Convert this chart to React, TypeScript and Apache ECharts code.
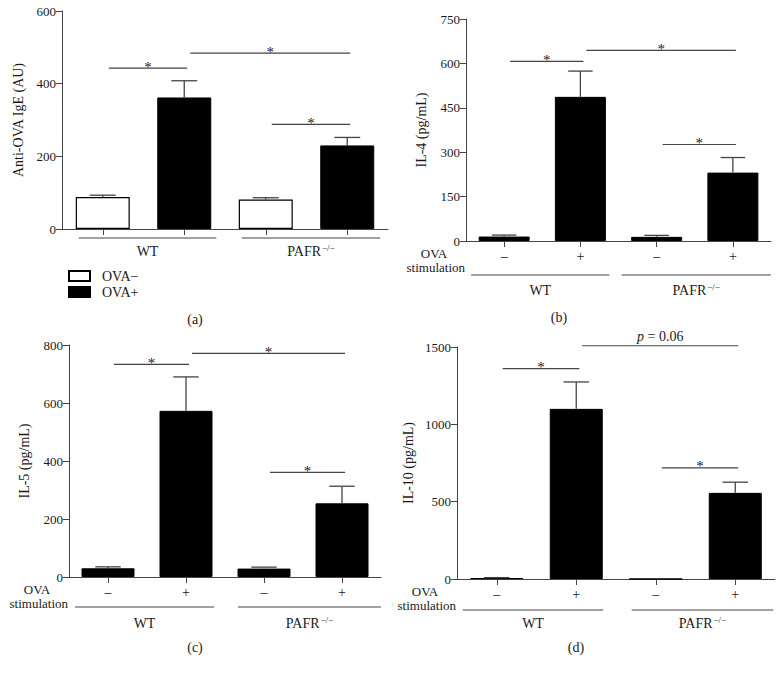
import React, { useEffect, useRef } from "react";
import * as echarts from "echarts";

// ---------- data ----------
const groupNames = ["WT", "PAFR"];
const stimLabels = ["–", "+", "–", "+"];
const blankLabels = ["", "", "", ""];
const legendNames = ["OVA−", "OVA+"];

const igeMean = [88, 362, 81, 230];
const igeSem = [5, 46, 5, 22];
const il4Mean = [15, 487, 14, 231];
const il4Sem = [5, 87, 5, 51];
const il5Mean = [30, 573, 29, 254];
const il5Sem = [5, 117, 5, 59];
const il10Mean = [6, 1100, 0, 557];
const il10Sem = [3, 174, 0, 69];

const yTicksA = [0, 200, 400, 600];
const yTicksB = [0, 150, 300, 450, 600, 750];
const yTicksC = [0, 200, 400, 600, 800];
const yTicksD = [0, 500, 1000, 1500];

// significance brackets: [fromIndex, toIndex, yValue]
const sigA = [[0, 1, 443], [1, 3, 484], [2, 3, 288]];
const sigB = [[0, 1, 607], [1, 3, 644], [2, 3, 326]];
const sigC = [[0, 1, 733], [1, 3, 771], [2, 3, 361]];
const sigD = [[0, 1, 1360], [1, 3, 1508], [2, 3, 719]];
const sigLabelsA = ["*", "*", "*"];
const sigLabelsB = ["*", "*", "*"];
const sigLabelsC = ["*", "*", "*"];
const sigLabelsD = ["*", "p = 0.06", "*"];

// groups: [fromIndex, toIndex]
const groupSpans = [[0, 1], [2, 3]];

const FONT = "'Liberation Serif', 'DejaVu Serif', 'Times New Roman', serif";
const AXIS_COLOR = "#444";
const TEXT_COLOR = "#1a1a1a";

type Panel = {
  grid: any;
  yName: string;
  yTicks: number[];
  mean: number[];
  sem: number[];
  sig: number[][];
  sigLabels: string[];
  barWidth: number;
  showStim: boolean;
  groupPads: number[][];
  lineDy: number;
  labelDy: number;
  nameGap: number;
  label: string;
  labelPos: number[];
  twoTone: boolean;
};

const panels: Panel[] = [
  {
    grid: { left: 62, top: 11, width: 326, height: 218 },
    yName: "Anti-OVA IgE (AU)", yTicks: yTicksA, mean: igeMean, sem: igeSem,
    sig: sigA, sigLabels: sigLabelsA, barWidth: 54, showStim: false,
    groupPads: [[24, 32], [24, 33]], lineDy: 9, labelDy: 21, nameGap: 37,
    label: "(a)", labelPos: [195, 319], twoTone: true,
  },
  {
    grid: { left: 466, top: 19, width: 305, height: 222 },
    yName: "IL-4 (pg/mL)", yTicks: yTicksB, mean: il4Mean, sem: il4Sem,
    sig: sigB, sigLabels: sigLabelsB, barWidth: 51, showStim: true,
    groupPads: [[33, 29], [35, 38]], lineDy: 34, labelDy: 48, nameGap: 38,
    label: "(b)", labelPos: [559, 317], twoTone: false,
  },
  {
    grid: { left: 69, top: 345, width: 312, height: 232 },
    yName: "IL-5 (pg/mL)", yTicks: yTicksC, mean: il5Mean, sem: il5Sem,
    sig: sigC, sigLabels: sigLabelsC, barWidth: 53, showStim: true,
    groupPads: [[33, 28], [26, 39]], lineDy: 30, labelDy: 45, nameGap: 38,
    label: "(c)", labelPos: [195, 647], twoTone: false,
  },
  {
    grid: { left: 457, top: 347, width: 318, height: 232 },
    yName: "IL-10 (pg/mL)", yTicks: yTicksD, mean: il10Mean, sem: il10Sem,
    sig: sigD, sigLabels: sigLabelsD, barWidth: 53, showStim: true,
    groupPads: [[34, 27], [24, 38]], lineDy: 31, labelDy: 43, nameGap: 42,
    label: "(d)", labelPos: [576, 647], twoTone: false,
  },
];

function buildOption() {
  const grids: any[] = [];
  const xAxes: any[] = [];
  const yAxes: any[] = [];
  const series: any[] = [];
  const graphics: any[] = [];

  panels.forEach((p, pi) => {
    grids.push({ ...p.grid, containLabel: false });
    xAxes.push({
      type: "category",
      gridIndex: pi,
      data: p.showStim ? stimLabels : blankLabels,
      boundaryGap: true,
      axisLine: { show: true, lineStyle: { color: AXIS_COLOR, width: 1 } },
      axisTick: { show: true, alignWithLabel: true, length: 6, lineStyle: { color: AXIS_COLOR } },
      axisLabel: { show: p.showStim, interval: 0, margin: 8, fontSize: 14, color: TEXT_COLOR, fontFamily: FONT },
      splitLine: { show: false },
    });
    const ticks = p.yTicks;
    yAxes.push({
      type: "value",
      gridIndex: pi,
      min: ticks[0],
      max: ticks[ticks.length - 1],
      interval: ticks[1] - ticks[0],
      name: p.yName,
      nameLocation: "middle",
      nameRotate: 90,
      nameGap: p.nameGap,
      nameTextStyle: { fontSize: 14, color: TEXT_COLOR, fontFamily: FONT },
      axisLine: { show: true, lineStyle: { color: AXIS_COLOR, width: 1 } },
      axisTick: { show: true, length: 6, lineStyle: { color: AXIS_COLOR } },
      axisLabel: {
        fontSize: 13, margin: 6, color: TEXT_COLOR, fontFamily: FONT,
        formatter: (v: number) => String(v),
      },
      splitLine: { show: false },
    });

    if (p.twoTone) {
      series.push({
        type: "bar", name: legendNames[0], xAxisIndex: pi, yAxisIndex: pi,
        stack: "a" + pi, barWidth: p.barWidth,
        data: p.mean.map((v, i) => (i % 2 === 0 ? v : "-")),
        itemStyle: { color: "#fff", borderColor: "#000", borderWidth: 1.2 },
      });
      series.push({
        type: "bar", name: legendNames[1], xAxisIndex: pi, yAxisIndex: pi,
        stack: "a" + pi, barWidth: p.barWidth,
        data: p.mean.map((v, i) => (i % 2 === 1 ? v : "-")),
        itemStyle: { color: "#000", borderColor: "#000", borderWidth: 1 },
      });
    } else {
      series.push({
        type: "bar", name: p.yName, xAxisIndex: pi, yAxisIndex: pi,
        barWidth: p.barWidth, data: p.mean,
        itemStyle: { color: "#000", borderColor: "#000", borderWidth: 1 },
      });
    }

    // error bars
    const bw = p.barWidth;
    series.push({
      type: "custom", name: "err" + pi, xAxisIndex: pi, yAxisIndex: pi, clip: false, z: 5,
      encode: { x: 0, y: 1 },
      data: p.mean.map((m, i) => [i, m, p.sem[i]]),
      renderItem: (params: any, api: any) => {
        const x = api.value(0), m = api.value(1), s = api.value(2);
        if (!s) return { type: "group", children: [] };
        const b = api.coord([x, m]);
        const t = api.coord([x, m + s]);
        const hw = bw * 0.24;
        const st = { stroke: AXIS_COLOR, lineWidth: 1.3 };
        return {
          type: "group",
          children: [
            { type: "line", shape: { x1: b[0], y1: b[1], x2: t[0], y2: t[1] }, style: st },
            { type: "line", shape: { x1: t[0] - hw, y1: t[1], x2: t[0] + hw, y2: t[1] }, style: st },
          ],
        };
      },
    });

    // significance brackets
    const labels = p.sigLabels;
    series.push({
      type: "custom", name: "sig" + pi, xAxisIndex: pi, yAxisIndex: pi, clip: false, z: 5,
      encode: { x: 0, y: 1 },
      data: p.sig.map((s) => [s[0], s[2], s[1]]),
      renderItem: (params: any, api: any) => {
        const from = api.value(0), y = api.value(1), to = api.value(2);
        const a = api.coord([from, y]);
        const b = api.coord([to, y]);
        const x1 = a[0] + 6, x2 = b[0] + 3;
        const lab = labels[params.dataIndex];
        const isStar = lab === "*";
        const textStyle: any = isStar
          ? { text: "*", fontSize: 15, fontFamily: FONT, fill: "#222", align: "center", verticalAlign: "bottom" }
          : {
              text: "{i|p}{r| = 0.06}",
              align: "center",
              verticalAlign: "bottom",
              rich: {
                i: { fontStyle: "italic", fontSize: 14, fontFamily: FONT, fill: "#222" },
                r: { fontSize: 14, fontFamily: FONT, fill: "#222" },
              },
            };
        return {
          type: "group",
          children: [
            { type: "line", shape: { x1, y1: a[1], x2, y2: a[1] }, style: { stroke: AXIS_COLOR, lineWidth: 1.2 } },
            {
              type: "text",
              x: (x1 + x2) / 2,
              y: isStar ? a[1] + 6 : a[1] - 2,
              style: textStyle,
            },
          ],
        };
      },
    });

    // group lines + labels
    const pads = p.groupPads;
    const lineDy = p.lineDy, labelDy = p.labelDy;
    series.push({
      type: "custom", name: "grp" + pi, xAxisIndex: pi, yAxisIndex: pi, clip: false, z: 5,
      encode: { x: 0, y: 1 },
      data: groupSpans.map((g) => [g[0], 0, g[1]]),
      renderItem: (params: any, api: any) => {
        const from = api.value(0), to = api.value(2);
        const a = api.coord([from, 0]);
        const b = api.coord([to, 0]);
        const pd = pads[params.dataIndex];
        const x1 = a[0] - pd[0], x2 = b[0] + pd[1];
        const name = groupNames[params.dataIndex];
        const text = name === "PAFR" ? "{n|PAFR}{s|−/−}" : "{n|" + name + "}";
        return {
          type: "group",
          children: [
            { type: "line", shape: { x1, y1: a[1] + lineDy, x2, y2: a[1] + lineDy }, style: { stroke: AXIS_COLOR, lineWidth: 1.2 } },
            {
              type: "text",
              x: (x1 + x2) / 2,
              y: a[1] + labelDy,
              style: {
                text,
                align: "center",
                verticalAlign: "middle",
                rich: {
                  n: { fontSize: 14, fontFamily: FONT, fill: TEXT_COLOR, lineHeight: 16, verticalAlign: "bottom" },
                  s: { fontSize: 9, fontFamily: FONT, fill: TEXT_COLOR, lineHeight: 16, verticalAlign: "bottom", padding: [0, 0, 6, 1] },
                },
              },
            },
          ],
        };
      },
    });

    // panel label
    graphics.push({
      type: "text", x: p.labelPos[0], y: p.labelPos[1],
      style: { text: p.label, fontSize: 14, fontFamily: FONT, fill: TEXT_COLOR, align: "center", verticalAlign: "middle" },
    });
    if (p.showStim) {
      const ax = p.grid.left;
      const ay = p.grid.top + p.grid.height;
      graphics.push({
        type: "text", x: ax - 32, y: ay + 12,
        style: { text: "OVA", fontSize: 13, fontFamily: FONT, fill: TEXT_COLOR, align: "center", verticalAlign: "middle" },
      });
      graphics.push({
        type: "text", x: ax - 1, y: ay + 26,
        style: { text: "stimulation", fontSize: 13, fontFamily: FONT, fill: TEXT_COLOR, align: "right", verticalAlign: "middle" },
      });
    }
  });

  return {
    animation: false,
    backgroundColor: "#fff",
    textStyle: { fontFamily: FONT },
    grid: grids,
    xAxis: xAxes,
    yAxis: yAxes,
    legend: {
      data: legendNames,
      orient: "vertical",
      left: 63,
      top: 264,
      itemWidth: 21,
      itemHeight: 10,
      itemGap: 2,
      icon: "rect",
      selectedMode: false,
      formatter: (name: string) => "\u2002" + name,
      textStyle: { fontSize: 14, fontFamily: FONT, color: TEXT_COLOR },
    },
    graphic: graphics,
    series,
  };
}

export default function App() {
  const ref = useRef<HTMLDivElement>(null);
  useEffect(() => {
    if (!ref.current) return;
    const chart = echarts.init(ref.current, undefined, { renderer: "svg" });
    chart.setOption(buildOption() as any);
    return () => chart.dispose();
  }, []);
  return (
    <div
      ref={ref}
      style={{ position: "fixed", left: 0, top: 0, width: 783, height: 673, background: "#fff" }}
    />
  );
}
